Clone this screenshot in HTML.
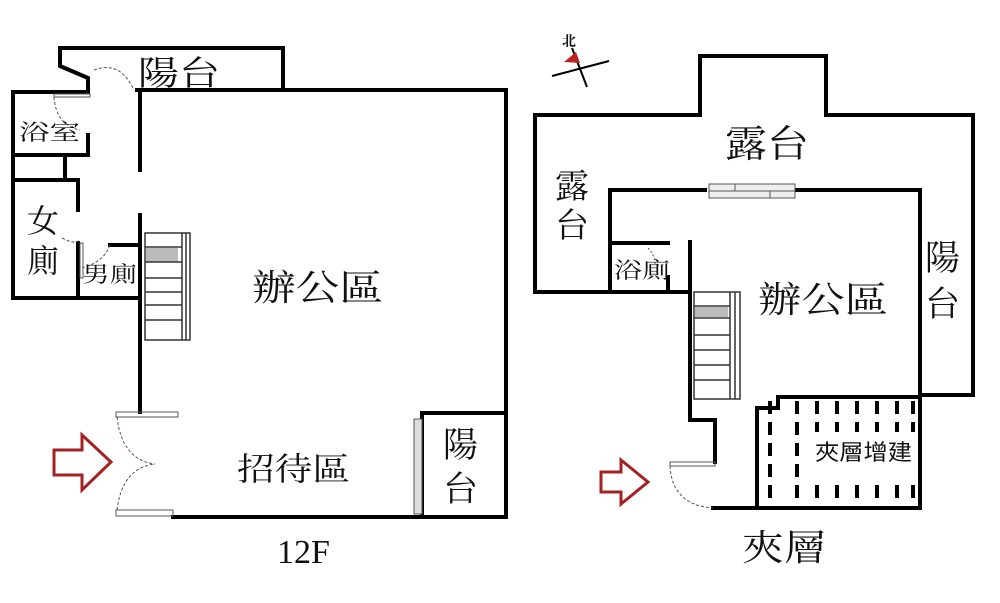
<!DOCTYPE html>
<html><head><meta charset="utf-8"><style>
body{margin:0;background:#fff}
svg{display:block}
text{font-family:"Liberation Serif","Noto Serif CJK SC","Noto Sans CJK TC",serif;fill:#111}
</style></head><body>
<svg width="1000" height="603" viewBox="0 0 1000 603" xmlns="http://www.w3.org/2000/svg">
<g fill="none" stroke="#000" stroke-width="4" stroke-linecap="square">
<polyline points="88,92 88,78 60,66 60,48 283,48 283,90 506,90 506,517 422,517"/>
<line x1="137" y1="90" x2="283" y2="90"/>
<polyline points="88,92 13,92 13,298 140,298"/>
<line x1="13" y1="155" x2="88" y2="155"/>
<line x1="88" y1="135" x2="88" y2="155"/>
<line x1="65" y1="155" x2="65" y2="180"/>
<polyline points="13,180 78,180 78,210"/>
<line x1="78" y1="243" x2="78" y2="298"/>
<line x1="110" y1="245" x2="140" y2="245"/>
<line x1="140" y1="92" x2="140" y2="170"/>
<line x1="140" y1="215" x2="140" y2="412"/>
<line x1="173" y1="517" x2="422" y2="517"/>
<polyline points="422,517 422,413 506,413"/>
<polyline points="690,292 535,292 535,115 700,115 700,56 826,56 826,115 973,115 973,395 920,395"/>
<polyline points="705,190 610,190 610,292"/>
<line x1="795" y1="190" x2="920" y2="190"/>
<line x1="920" y1="190" x2="920" y2="508"/>
<line x1="610" y1="243" x2="668" y2="243"/>
<line x1="668" y1="277" x2="668" y2="292"/>
<polyline points="690,242 690,420 715,420 715,462"/>
<line x1="713" y1="508" x2="920" y2="508"/>
<polyline points="757,508 757,408 778,408 778,397 920,397"/>
</g>
<g fill="none" stroke="#555" stroke-width="1">
<rect x="116" y="412" width="62" height="5"/>
<rect x="116" y="510" width="57" height="6"/>
<path d="M117,417 Q122,460 155,464 M117,510 Q122,468 155,464" stroke-dasharray="3,2"/>
<path d="M94,70 Q120,60 134,90" stroke-dasharray="3,2"/>
<rect x="54" y="94" width="36" height="3"/>
<path d="M54,97 Q56,125 80,130" stroke-dasharray="3,2"/>
<rect x="80" y="243" width="3" height="35"/>
<path d="M62,238 Q75,245 80,240" stroke-dasharray="3,2"/>
<path d="M110,245 Q104,262 82,268" stroke-dasharray="3,2"/>
<rect x="414" y="419" width="8" height="95" fill="#ddd"/>
<rect x="670" y="462" width="45" height="4"/>
<path d="M670,466 Q672,505 713,508" stroke-dasharray="3,2"/>
<rect x="709" y="184" width="86" height="14" fill="#eee"/>
<line x1="709" y1="191" x2="795" y2="191"/>
<line x1="735" y1="184" x2="735" y2="191"/><line x1="770" y1="191" x2="770" y2="198"/>
<path d="M648,248 Q655,255 655,265" stroke-dasharray="2,2"/>
</g>
<g stroke="#333" stroke-width="1.5" fill="#fff">
<rect x="145" y="233" width="45" height="107"/>
<rect x="146" y="248" width="32" height="14" fill="#bbb" stroke="none"/>
<line x1="145" y1="247" x2="182" y2="247"/><line x1="145" y1="262" x2="182" y2="262"/>
<line x1="145" y1="278" x2="182" y2="278"/><line x1="145" y1="292" x2="182" y2="292"/>
<line x1="145" y1="305" x2="182" y2="305"/><line x1="145" y1="320" x2="182" y2="320"/>
<line x1="182" y1="233" x2="182" y2="340"/><line x1="186" y1="233" x2="186" y2="340"/>
</g>
<g stroke="#333" stroke-width="1.5" fill="#fff">
<rect x="694" y="292" width="46" height="107"/>
<rect x="695" y="307" width="33" height="10" fill="#bbb" stroke="none"/>
<line x1="694" y1="306" x2="730" y2="306"/><line x1="694" y1="318" x2="730" y2="318"/>
<line x1="694" y1="335" x2="730" y2="335"/><line x1="694" y1="350" x2="730" y2="350"/>
<line x1="694" y1="365" x2="730" y2="365"/><line x1="694" y1="380" x2="730" y2="380"/>
<line x1="730" y1="292" x2="730" y2="399"/><line x1="735" y1="292" x2="735" y2="399"/>
</g>
<g stroke="#000" stroke-width="4" stroke-dasharray="13,8">
<line x1="770" y1="401" x2="770" y2="505"/>
<line x1="797" y1="401" x2="797" y2="505"/>
<line x1="817" y1="401" x2="817" y2="432"/><line x1="817" y1="485" x2="817" y2="505"/>
<line x1="837" y1="401" x2="837" y2="432"/><line x1="837" y1="485" x2="837" y2="505"/>
<line x1="857" y1="401" x2="857" y2="432"/><line x1="857" y1="485" x2="857" y2="505"/>
<line x1="877" y1="401" x2="877" y2="432"/><line x1="877" y1="485" x2="877" y2="505"/>
<line x1="897" y1="401" x2="897" y2="432"/><line x1="897" y1="485" x2="897" y2="505"/>
<line x1="913" y1="401" x2="913" y2="432"/><line x1="913" y1="485" x2="913" y2="505"/>
</g>
<g fill="none" stroke="#a32222" stroke-width="3">
<polygon points="54,450 82,450 82,435 111,462 82,490 82,475 54,475"/>
<polygon points="601,472 621,472 621,460 648,482 621,504 621,492 601,492"/>
</g>
<g stroke="#000" stroke-width="2"><line x1="552" y1="76" x2="609" y2="61"/><line x1="572" y1="48" x2="587" y2="87"/></g>
<polygon points="564,62 576,52 580,63" fill="#b22"/>
<text x="562" y="46" font-size="14" font-weight="bold">北</text>
<text x="138" y="85" font-size="34" textLength="82" lengthAdjust="spacingAndGlyphs">陽台</text>
<text x="19" y="140" font-size="22" textLength="61" lengthAdjust="spacingAndGlyphs">浴室</text>
<text x="27" y="232" font-size="32">女</text>
<text x="27" y="272" font-size="32">廁</text>
<text x="82" y="282" font-size="22" textLength="55" lengthAdjust="spacingAndGlyphs">男廁</text>
<text x="252" y="300" font-size="36" textLength="131" lengthAdjust="spacingAndGlyphs">辦公區</text>
<text x="237" y="480" font-size="32" textLength="113" lengthAdjust="spacingAndGlyphs">招待區</text>
<text x="443" y="457" font-size="35">陽</text>
<text x="443" y="501" font-size="35">台</text>
<text x="277" y="563" font-size="34">12F</text>
<text x="725" y="157" font-size="38" textLength="84" lengthAdjust="spacingAndGlyphs">露台</text>
<text x="555" y="198" font-size="34">露</text>
<text x="555" y="237" font-size="34">台</text>
<text x="614" y="278" font-size="22" textLength="56" lengthAdjust="spacingAndGlyphs">浴廁</text>
<text x="758" y="312" font-size="36" textLength="130" lengthAdjust="spacingAndGlyphs">辦公區</text>
<text x="925" y="270" font-size="35">陽</text>
<text x="925" y="316" font-size="35">台</text>
<text x="815" y="460" font-size="22" textLength="97" lengthAdjust="spacingAndGlyphs" style="font-family:'Liberation Sans','Noto Sans CJK TC',sans-serif">夾層增建</text>
<text x="742" y="560" font-size="36" textLength="84" lengthAdjust="spacingAndGlyphs">夾層</text>
</svg>
</body></html>
